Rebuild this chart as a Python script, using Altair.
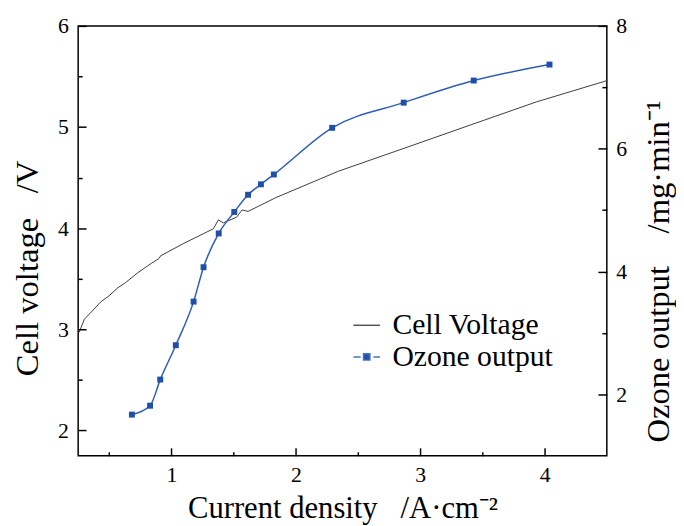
import altair as alt
import pandas as pd

# ---- data ----
current_v = [0.258, 0.30, 0.377, 0.43, 0.497, 0.568, 0.629, 0.73, 0.841, 0.90, 0.913,
             1.10, 1.337, 1.377, 1.417, 1.523, 1.568, 1.616, 1.841, 2.342, 2.873,
             3.403, 3.933, 4.504]
voltage = [2.97, 3.10, 3.199, 3.27, 3.33, 3.41, 3.46, 3.56, 3.655, 3.70, 3.727,
           3.85, 3.994, 4.082, 4.053, 4.108, 4.18, 4.166, 4.303, 4.563, 4.791,
           5.02, 5.248, 5.46]
current_o = [0.682, 0.828, 0.91, 1.035, 1.178, 1.258, 1.380, 1.505, 1.616, 1.719,
             1.823, 2.292, 2.867, 3.43, 4.039]
ozone = [1.67, 1.815, 2.24, 2.80, 3.51, 4.07, 4.62, 4.97, 5.25, 5.42, 5.58, 6.34,
         6.75, 7.11, 7.37]

# tick positions (major + minor); only the whole / even ones carry labels
x_ticks = [0.5, 1, 1.5, 2, 2.5, 3, 3.5, 4]
yl_ticks = [2, 2.5, 3, 3.5, 4, 4.5, 5, 5.5, 6]
yr_ticks = [2, 3, 4, 5, 6, 7, 8]
series = ["Cell Voltage", "Ozone output"]

FONT = "Liberation Serif"
W, H = 535, 435

xs = alt.Scale(domain=[0.25, 4.5], nice=False, zero=False)
yls = alt.Scale(domain=[1.75, 6], nice=False, zero=False)
yrs = alt.Scale(domain=[1, 8], nice=False, zero=False)

volt_df = pd.DataFrame({"j": current_v, "v": voltage})
oz_df = pd.DataFrame({"j": current_o, "o": ozone})
leg_df = pd.DataFrame({"s": series})

NB = "\u00a0"


def minor_dash(test, dash):
    return {"condition": {"test": test, "value": dash}, "value": [40, 0]}


# axes are pulled inside the frame by the tick length (negative offset) so the
# ticks point inward; minor ticks are shortened with a dash pattern
x_axis = alt.Axis(values=x_ticks, orient="bottom", offset=-8, ticks=True, zindex=1,
                  tickSize=8, tickColor="black", tickWidth=1.5,
                  tickDash=minor_dash("datum.value % 1 != 0", [4, 4]),
                  tickDashOffset=4,
                  labelExpr="datum.value % 1 == 0 ? format(datum.value, 'd') : ''",
                  title="Current density" + NB * 3 + "/A·cm⁻²",
                  titleFontSize=31, labelPadding=9, titleY=70,
                  titleBaseline="alphabetic")
yl_axis = alt.Axis(values=yl_ticks, orient="left", offset=-8, ticks=True, zindex=1,
                   tickSize=8, tickColor="black", tickWidth=1.5,
                   tickDash=minor_dash("datum.value % 1 != 0", [4, 4]),
                   tickDashOffset=4,
                   labelExpr="datum.value % 1 == 0 ? format(datum.value, 'd') : ''",
                   title="Cell voltage" + NB * 3 + "/V",
                   titleFontSize=33, labelPadding=10, titleAngle=270,
                   titleX=-49, titleY=245, titleAlign="center",
                   titleBaseline="alphabetic")
yr_axis = alt.Axis(values=yr_ticks, orient="right", offset=-9, ticks=True, zindex=1,
                   tickSize=9, tickColor="black", tickWidth=1.5,
                   tickDash=minor_dash("datum.value % 2 != 0", [5, 4]),
                   tickDashOffset=5,
                   labelExpr="datum.value % 2 == 0 ? format(datum.value, 'd') : ''",
                   title="Ozone output" + NB * 4 + "/mg·min⁻¹",
                   titleFontSize=33, labelPadding=9, titleAngle=270,
                   titleX=71, titleY=248, titleAlign="center",
                   titleBaseline="alphabetic")

volt_line = alt.Chart(volt_df).mark_line(color="#3c3c3c", strokeWidth=1).encode(
    x=alt.X("j:Q", scale=xs, axis=x_axis),
    y=alt.Y("v:Q", scale=yls, axis=yl_axis),
)

ozone_line = alt.Chart(oz_df).mark_line(color="#2d5db5", strokeWidth=1.5,
                                        interpolate="monotone").encode(
    x=alt.X("j:Q", scale=xs, axis=None),
    y=alt.Y("o:Q", scale=yrs, axis=yr_axis),
)
oz_pts = alt.Chart(oz_df).mark_square(size=36, color="#1f4fa6", opacity=1).encode(
    x=alt.X("j:Q", scale=xs, axis=None),
    y=alt.Y("o:Q", scale=yrs, axis=yr_axis),
)

leg = alt.Legend(title=None, orient="none", legendX=277, legendY=288,
                 labelFont=FONT, labelFontSize=30, labelColor="black",
                 labelOffset=11, labelLimit=400, rowPadding=2, symbolSize=729,
                 symbolStrokeWidth=1.5, padding=0)
path_line = "M-1,0H1"
path_oz = "M-1,0H-0.45M0.5,0H1M-0.24,-0.24H0.24V0.24H-0.24Z"

legend_layer = alt.Chart(leg_df).mark_point(opacity=0, filled=True, fill="#1f4fa6",
                                            strokeWidth=1.5).encode(
    stroke=alt.Stroke("s:N", scale=alt.Scale(domain=series, range=["#555555", "#4a74c4"]),
                      legend=leg),
    shape=alt.Shape("s:N", scale=alt.Scale(domain=series, range=[path_line, path_oz]),
                    legend=leg),
)

right = alt.layer(ozone_line, oz_pts, legend_layer)

chart = alt.layer(volt_line, right).resolve_scale(y="independent").resolve_axis(
    x="independent", y="independent"
).properties(
    width=W, height=H,
    autosize=alt.AutoSizeParams(type="none"),
    padding={"left": 71, "top": 15, "right": 70, "bottom": 68},
).configure_view(
    stroke="black", strokeWidth=1.5, fill="transparent"
).configure_axis(
    domain=False, grid=False,
    labelFont=FONT, labelFontSize=22, labelColor="black", labelFlush=False,
    titleFont=FONT, titleColor="black", titleFontWeight="normal",
)

chart.save("out.html", embed_options={"renderer": "svg", "actions": False})
